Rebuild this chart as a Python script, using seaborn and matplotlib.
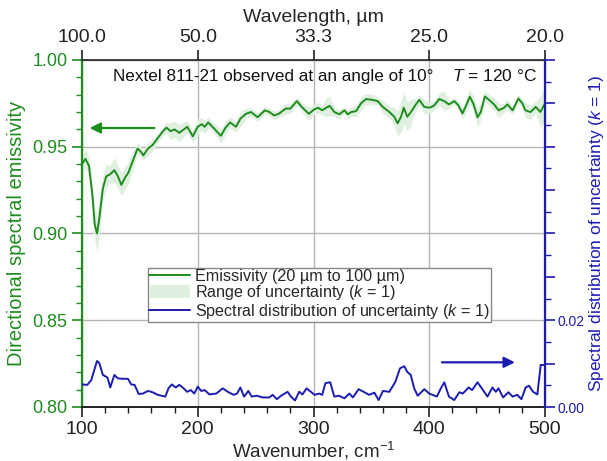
import numpy as np
import pandas as pd
import matplotlib
matplotlib.use("Agg")
import matplotlib.pyplot as plt
from matplotlib.ticker import MultipleLocator, FixedLocator, FuncFormatter
import seaborn as sns

# ---------------- data ----------------
wn_emis = [100, 103, 106, 109, 111, 113, 115, 118, 121, 124, 128, 131, 134, 137, 140, 144, 148, 151,
           153, 157, 161, 165.5, 170, 173, 176.4, 180, 184, 188, 191, 195.7, 200, 203.4, 206, 209,
           214, 220, 224, 228, 233, 237, 241.7, 246, 251.7, 258, 262, 266, 270, 276, 280, 285.6,
           290.5, 296, 301, 304, 307.5, 311, 314, 318, 322.4, 326.7, 329.6, 332.5, 336.8, 341,
           345.4, 351, 355.5, 359.8, 365.5, 369.8, 372.7, 375.6, 378, 381, 384, 388, 391.4, 395.7,
           400, 404, 408.6, 413, 417, 421.6, 425, 428.7, 432, 435, 438, 441.7, 444.5, 448, 451.7,
           456, 460, 464.7, 467.5, 472, 477, 480.5, 483, 487.6, 492, 496, 500]
emis = [0.940, 0.943, 0.939, 0.922, 0.905, 0.900, 0.909, 0.926, 0.933, 0.934, 0.9365, 0.933, 0.928,
        0.932, 0.935, 0.942, 0.949, 0.947, 0.945, 0.949, 0.951, 0.955, 0.959, 0.961, 0.959, 0.960,
        0.958, 0.960, 0.9615, 0.956, 0.9615, 0.963, 0.9615, 0.964, 0.9606, 0.9563, 0.961, 0.964,
        0.9615, 0.9663, 0.969, 0.970, 0.967, 0.971, 0.970, 0.968, 0.969, 0.972, 0.972, 0.9763,
        0.9725, 0.969, 0.9717, 0.9725, 0.971, 0.9725, 0.9736, 0.970, 0.9687, 0.971, 0.9687, 0.970,
        0.9705, 0.975, 0.9775, 0.977, 0.9763, 0.973, 0.970, 0.9673, 0.9635, 0.9673, 0.9725, 0.9673,
        0.9698, 0.974, 0.977, 0.973, 0.9725, 0.9736, 0.9775, 0.9763, 0.9744, 0.9763, 0.974, 0.9692,
        0.974, 0.9788, 0.975, 0.967, 0.970, 0.979, 0.977, 0.9744, 0.971, 0.9725, 0.9744, 0.971,
        0.9778, 0.975, 0.971, 0.970, 0.973, 0.970, 0.975]

wn_unc = [100, 104.6, 108, 111, 113, 115, 118, 122, 124.4, 128, 131, 135, 139.7, 142.5, 145.4, 149,
          152.6, 157, 161, 165.5, 172, 174.7, 177.6, 181, 184, 187, 190.8, 194, 197, 200, 203, 206,
          210, 216, 221.6, 226, 231, 234, 236.8, 240, 243.7, 246.6, 251, 256, 261.8, 264.7, 268.4,
          272, 277.6, 280.5, 284, 287.6, 290.5, 294, 297.7, 301, 305, 307.5, 310.3, 314.4, 318, 322,
          326.7, 331, 334, 339, 344, 348, 352.6, 356.3, 360, 365.5, 370.7, 374.7, 378.4, 381, 384,
          387, 390, 395.7, 400, 406.6, 410, 413, 417, 421.6, 426, 429, 434, 437, 441.7, 445.4,
          450.3, 454.6, 457.5, 459.8, 463.8, 468.4, 472, 476, 479.6, 483.3, 486.2, 489.7, 493.4,
          496.3, 500]
unc = [0.0052, 0.0051, 0.0062, 0.0089, 0.0106, 0.0101, 0.0074, 0.0068, 0.0045, 0.0074, 0.0066,
       0.0065, 0.0065, 0.0052, 0.0051, 0.0030, 0.0031, 0.0037, 0.0034, 0.0028, 0.0024, 0.0043,
       0.0052, 0.0045, 0.0051, 0.0045, 0.0035, 0.0039, 0.0031, 0.0047, 0.0037, 0.0039, 0.0029,
       0.0031, 0.0043, 0.0035, 0.0028, 0.0031, 0.0045, 0.0024, 0.0037, 0.0024, 0.0026, 0.0022,
       0.0022, 0.0028, 0.0018, 0.0026, 0.0035, 0.0024, 0.0015, 0.0035, 0.0029, 0.0043, 0.0035,
       0.0028, 0.0031, 0.0028, 0.0055, 0.0057, 0.0024, 0.0026, 0.0020, 0.0031, 0.0022, 0.0041,
       0.0034, 0.0028, 0.0033, 0.0016, 0.0037, 0.0035, 0.0058, 0.0089, 0.0094, 0.0081, 0.0074,
       0.0043, 0.0026, 0.0041, 0.0031, 0.0024, 0.0043, 0.0057, 0.0024, 0.0016, 0.0034, 0.0031,
       0.0045, 0.0039, 0.0057, 0.0043, 0.0024, 0.0045, 0.0035, 0.0043, 0.0022, 0.0034, 0.0024,
       0.0028, 0.0018, 0.0045, 0.0049, 0.0035, 0.0029, 0.0097, 0.0097]

x_ticks = [100, 200, 300, 400, 500]
top_tick_labels = ["100.0", "50.0", "33.3", "25.0", "20.0"]

GREEN = "#1f8c1f"
BAND = "#e0f0e0"
BLUE = "#1c1cb0"

# ---------------- style ----------------
sns.set_style("ticks")
plt.rcParams["font.family"] = ["Liberation Sans", "DejaVu Sans"]
plt.rcParams["mathtext.fontset"] = "custom"
plt.rcParams["mathtext.rm"] = "Liberation Sans"
plt.rcParams["mathtext.it"] = "Liberation Sans:italic"

fig = plt.figure(figsize=(6.07, 4.61), dpi=100)
ax = fig.add_axes([82 / 607, 1 - 407 / 461, 463 / 607, 347 / 461])

df_e = pd.DataFrame({"wn": wn_emis, "e": emis})
df_u = pd.DataFrame({"wn": wn_unc, "u": unc})

u_on_e = np.interp(np.array(wn_emis), np.array(wn_unc), np.array(unc))
band = ax.fill_between(wn_emis, np.array(emis) - u_on_e, np.array(emis) + u_on_e,
                       color=BAND, lw=0, zorder=1, label="Range of uncertainty ($k$ = 1)")
sns.lineplot(data=df_e, x="wn", y="e", ax=ax, color=GREEN, lw=1.4, zorder=3,
             label="Emissivity (20 µm to 100 µm)", legend=False)

ax.set_xlim(100, 500)
ax.set_ylim(0.80, 1.00)
ax.xaxis.set_major_locator(FixedLocator(x_ticks))
ax.xaxis.set_minor_locator(MultipleLocator(20))
ax.yaxis.set_major_locator(MultipleLocator(0.05))
ax.yaxis.set_minor_locator(MultipleLocator(0.01))
ax.yaxis.set_major_formatter(FuncFormatter(lambda v, p: f"{v:.2f}"))
ax.grid(True, which="major", color="#b4b4b4", lw=1.0, zorder=0)
ax.set_axisbelow(True)

ax.tick_params(axis="x", which="major", direction="out", length=7, width=1.2,
               labelsize=14, colors="#222222", pad=3)
ax.tick_params(axis="x", which="minor", direction="out", length=4, width=1.0, colors="#222222")
ax.tick_params(axis="y", which="major", direction="out", length=7, width=1.2,
               labelsize=13, colors=GREEN, labelcolor=GREEN)
ax.tick_params(axis="y", which="minor", direction="out", length=4, width=1.0, colors=GREEN)
ax.spines["left"].set_color(GREEN)
ax.spines["left"].set_linewidth(1.6)
ax.spines["bottom"].set_color("#222222")
ax.spines["bottom"].set_linewidth(1.4)
ax.spines["top"].set_color("#222222")
ax.spines["top"].set_linewidth(1.2)

ax.set_xlabel("Wavenumber, cm$^{-1}$", fontsize=13.5, va="center")
ax.xaxis.set_label_coords(0.5, -(451 - 407) / 347)
ax.set_ylabel("Directional spectral emissivity", fontsize=14.5, color=GREEN, va="center")
ax.yaxis.set_label_coords(-(82 - 17) / 463, 0.5)

# right axis
ax2 = ax.twinx()
sns.lineplot(data=df_u, x="wn", y="u", ax=ax2, color=BLUE, lw=1.4, zorder=3,
             label="Spectral distribution of uncertainty ($k$ = 1)", legend=False)
ax2.set_ylim(0, 0.08)
ax2.set_xlim(100, 500)
ax2.yaxis.set_major_locator(MultipleLocator(0.01))
ax2.yaxis.set_minor_locator(MultipleLocator(0.005))
ax2.yaxis.set_major_formatter(FuncFormatter(lambda v, p: f"{v:.2f}" if abs(v) < 1e-9 or abs(v - 0.02) < 1e-9 else ""))
ax2.tick_params(axis="y", which="major", direction="out", length=7, width=1.2,
                labelsize=10, colors=BLUE, labelcolor=BLUE, pad=2)
ax2.tick_params(axis="y", which="minor", direction="out", length=4, width=1.0, colors=BLUE)
ax2.spines["right"].set_color(BLUE)
ax2.spines["right"].set_linewidth(1.6)
ax2.spines["left"].set_visible(False)
ax2.spines["top"].set_visible(False)
ax2.spines["bottom"].set_visible(False)
ax2.set_ylabel("Spectral distribution of uncertainty ($k$ = 1)", fontsize=12.5, color=BLUE,
               rotation=90, va="center")
ax2.yaxis.set_label_coords((597 - 82) / 463, 0.5)

# top axis
axt = ax.secondary_xaxis("top")
axt.set_xticks(x_ticks)
axt.set_xticklabels(top_tick_labels)
axt.tick_params(axis="x", direction="out", length=7, width=1.2, labelsize=14,
                colors="#222222", pad=3)
axt.spines["top"].set_color("#222222")
axt.set_xlabel("Wavelength, µm", fontsize=14, labelpad=5)

# annotation text
ax.text(126.5, 0.9905, "Nextel 811-21 observed at an angle of 10°", fontsize=12.3,
        va="center", ha="left", color="#111111", zorder=5)
ax.text(420, 0.9905, "$T$ = 120 °C", fontsize=12.5, va="center", ha="left",
        color="#111111", zorder=5)

# arrows
ax.annotate("", xy=(106.6, 0.9608), xytext=(162.5, 0.9608),
            arrowprops=dict(arrowstyle="-|>", color=GREEN, lw=1.6, mutation_scale=16,
                            shrinkA=0, shrinkB=0), zorder=5)
ax2.annotate("", xy=(474, 0.0103), xytext=(411, 0.0103),
             arrowprops=dict(arrowstyle="-|>", color=BLUE, lw=1.6, mutation_scale=16,
                             shrinkA=0, shrinkB=0), zorder=5)

# legend
h1, l1 = ax.get_legend_handles_labels()
h2, l2 = ax2.get_legend_handles_labels()
handles = h1 + h2
labels = l1 + l2
order = [labels.index("Emissivity (20 µm to 100 µm)"),
         labels.index("Range of uncertainty ($k$ = 1)"),
         labels.index("Spectral distribution of uncertainty ($k$ = 1)")]
leg = ax2.legend([handles[i] for i in order], [labels[i] for i in order],
                 loc="upper left", bbox_to_anchor=(0.1425, 0.4006), borderaxespad=0,
                 fontsize=11.6, frameon=True, fancybox=False, framealpha=1,
                 edgecolor="#888888", handlelength=2.5, handleheight=0.85,
                 labelspacing=-0.05, borderpad=0.08, handletextpad=0.35)
leg.get_frame().set_linewidth(1.0)
leg.set_zorder(10)

fig.savefig("out.png", dpi=100)
